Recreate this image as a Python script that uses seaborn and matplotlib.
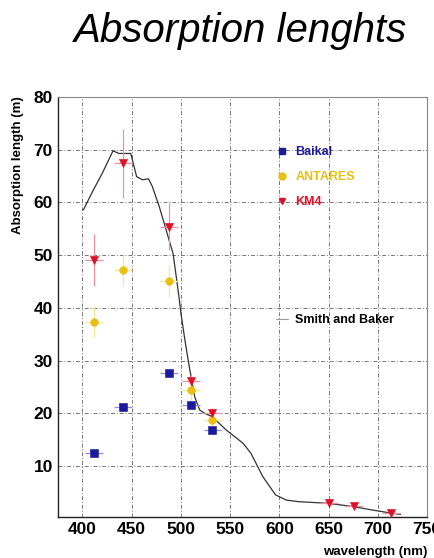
import numpy as np
import pandas as pd
import matplotlib
matplotlib.use("Agg")
import matplotlib.pyplot as plt
import seaborn as sns
from matplotlib.ticker import MultipleLocator
from matplotlib.lines import Line2D

sns.set_style("whitegrid")
plt.rcParams['font.family'] = ['Liberation Sans', 'DejaVu Sans']
plt.rcParams['text.color'] = 'black'
plt.rcParams['xtick.color'] = 'black'
plt.rcParams['ytick.color'] = 'black'

# Smith and Baker curve
sb_wl = [401, 410, 420, 431, 437, 449, 455, 461, 467, 471, 478, 486, 492, 498, 500,
         504, 509, 514, 519, 524, 532, 546, 563, 571, 583, 596, 607, 620, 649, 674,
         695, 715, 723]
sb_len = [58.6, 62.0, 65.5, 69.8, 69.3, 69.3, 64.9, 64.3, 64.5, 63.0, 59.2, 54.1, 50.3,
          42.1, 38.9, 33.9, 28.2, 23.1, 20.6, 20.0, 19.3, 16.8, 14.3, 12.4, 8.0, 4.5,
          3.5, 3.2, 2.9, 2.3, 1.6, 1.0, 0.8]

# Baikal
baikal_wl = [412, 441, 488, 510, 532]
baikal_len = [12.5, 21.1, 27.7, 21.5, 16.8]
baikal_yerr = [0.6, 0.6, 0.6, 0.6, 0.6]

# ANTARES
antares_wl = [412, 441, 488, 510, 532]
antares_len = [37.4, 47.1, 45.1, 24.4, 18.7]
antares_yerr = [3.0, 3.0, 3.0, 2.0, 1.5]

# KM4
km4_wl = [412, 441, 488, 510, 532, 650, 676, 713]
km4_len = [49.1, 67.4, 55.4, 26.2, 20.0, 3.0, 2.4, 1.0]
km4_yerr = [5.0, 6.5, 4.5, 1.5, 1.0, 0.3, 0.3, 0.3]

x_err = 9

c_baikal = "#1c1a9c"
c_antares = "#e8c010"
c_km4 = "#e01028"

fig = plt.figure(figsize=(4.35, 5.58), dpi=100)
ax = fig.add_axes([0.133, 0.0735, 0.849, 0.7525])

sb = pd.DataFrame({"wl": sb_wl, "len": sb_len})
sns.lineplot(data=sb, x="wl", y="len", ax=ax, color="#333333", lw=0.9, zorder=2)

series = [
    (baikal_wl, baikal_len, baikal_yerr, c_baikal, "#9090e0", "s", 5.2),
    (antares_wl, antares_len, antares_yerr, c_antares, "#f6e890", "o", 5.5),
    (km4_wl, km4_len, km4_yerr, c_km4, "#f090a0", "v", 5.8),
]
for wl, ln, ye, col, ecol, mk, ms in series:
    ax.errorbar(wl, ln, yerr=ye, xerr=x_err, fmt="none", ecolor=ecol, elinewidth=0.9, zorder=3)
    sns.scatterplot(x=wl, y=ln, ax=ax, color=col, marker=mk, s=ms ** 2, edgecolor=col, zorder=4)

ax.set_xlim(375, 750)
ax.set_ylim(0.3, 80)
ax.xaxis.set_major_locator(MultipleLocator(50))
ax.xaxis.set_minor_locator(MultipleLocator(25))
ax.yaxis.set_minor_locator(MultipleLocator(2))
ax.set_yticks([10, 20, 30, 40, 50, 60, 70, 80])
ax.tick_params(which="both", direction="in", color="#444444")
ax.tick_params(which="major", length=6, labelsize=12.5)
ax.tick_params(which="minor", length=3)
for lab in ax.get_xticklabels() + ax.get_yticklabels():
    lab.set_fontweight("bold")
ax.grid(True, which="major", color="#777777", ls=(0, (4, 2, 1, 2)), lw=0.7)
for s in ["left", "bottom"]:
    ax.spines[s].set_color("#222222")
    ax.spines[s].set_linewidth(1.0)
for s in ["top", "right"]:
    ax.spines[s].set_color("#888888")
    ax.spines[s].set_linewidth(0.8)

ax.set_xlabel("")
ax.set_ylabel("")
fig.text(0.042, 0.828, "Absorption length (m)", rotation=90, ha="center", va="top",
         fontsize=9.5, fontweight="bold")
fig.text(0.982, 0.0, "wavelength (nm)", ha="right", va="bottom", fontsize=9.5, fontweight="bold")
fig.text(0.552, 0.945, "Absorption lenghts", ha="center", va="center", fontsize=29, style="italic")

handles = [
    Line2D([], [], ls="none", marker="s", color=c_baikal, markersize=5),
    Line2D([], [], ls="none", marker="o", color=c_antares, markersize=5),
    Line2D([], [], ls="none", marker="v", color=c_km4, markersize=5),
]
leg = ax.legend(handles, ["Baikal", "ANTARES", "KM4"], loc="upper left",
                bbox_to_anchor=(0.56, 0.91), frameon=False, handlelength=1.0,
                handletextpad=0.55, labelspacing=1.05, prop={"size": 9, "weight": "bold"})
for t, c in zip(leg.get_texts(), [c_baikal, c_antares, c_km4]):
    t.set_color(c)
ax.add_artist(leg)
leg2 = ax.legend([Line2D([], [], color="#999999", lw=0.8)], ["Smith and Baker"],
                 loc="upper left", bbox_to_anchor=(0.56, 0.51), frameon=False,
                 handlelength=1.0, handletextpad=0.55, prop={"size": 9, "weight": "bold"})

fig.savefig("out.png", dpi=100)
